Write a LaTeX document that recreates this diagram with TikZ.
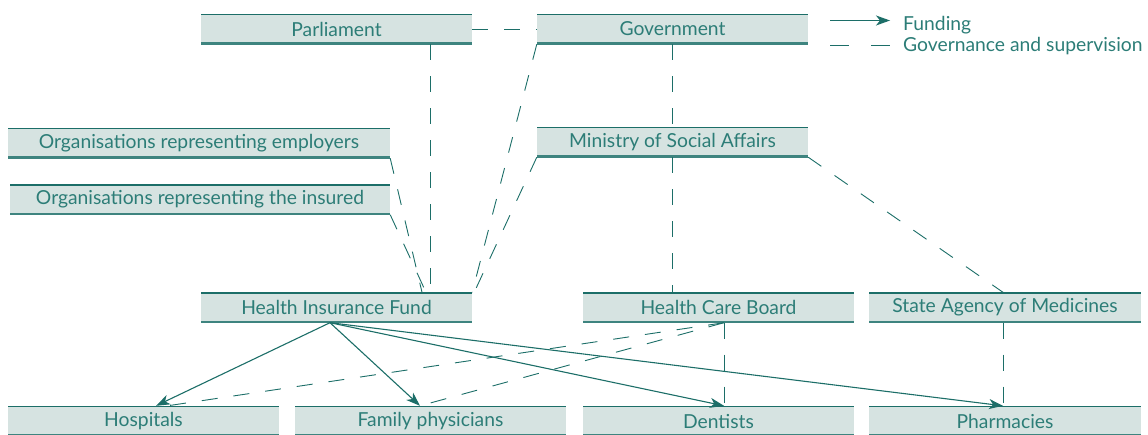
\documentclass[tikz,border=0pt]{standalone}
\usepackage{fontspec}
\setmainfont{Lato}
\usetikzlibrary{arrows.meta}
\definecolor{teal1}{RGB}{28,110,104}
\definecolor{tealtxt}{RGB}{44,125,119}
\definecolor{boxfill}{RGB}{214,227,225}
\tikzset{
  box/.style={fill=boxfill, inner sep=0pt, minimum height=30pt, text=tealtxt,
    font=\fontsize{19.3}{21}\selectfont,
    path picture={\draw[teal1, line width=2.2pt]
      (path picture bounding box.north west) -- (path picture bounding box.north east);
      \draw[teal1!85, line width=3.2pt]
      (path picture bounding box.south west) -- (path picture bounding box.south east);}},
  gov/.style={draw=teal1, line width=0.9pt, dash pattern=on 16pt off 16pt},
  fund/.style={draw=teal1, line width=1.1pt, -{Stealth[length=14pt,width=10pt,inset=4pt]}},
  legtxt/.style={anchor=base west, inner sep=0pt, text=tealtxt, font=\fontsize{19.3}{21}\selectfont}
}
\begin{document}
\begin{tikzpicture}[x=1pt,y=-1pt]
\useasboundingbox (0,0) rectangle (1148,434);
% boxes
\node[box, minimum width=271pt] (par) at (336.5,29) {Parliament};
\node[box, minimum width=271pt] (gov) at (672.5,29) {Government};
\node[box, minimum width=271pt] (min) at (672.5,142) {Ministry of Social Affairs};
\node[box, minimum width=382pt] (emp) at (199,143) {Organisations representing employers};
\node[box, minimum width=380pt] (ins) at (200,199.5) {Organisations representing the insured};
\node[box, minimum width=271pt] (hif) at (336.5,307.5) {Health Insurance Fund};
\node[box, minimum width=271pt] (hcb) at (718.5,307.5) {Health Care Board};
\node[box, minimum width=272pt] (sam) at (1005,307.5) {State Agency of Medicines};
\node[box, minimum width=271pt] (hos) at (143.5,421) {Hospitals};
\node[box, minimum width=271pt] (fam) at (430.5,421) {Family physicians};
\node[box, minimum width=271pt] (den) at (718.5,421) {Dentists};
\node[box, minimum width=272pt] (pha) at (1005,421) {Pharmacies};
% governance and supervision
\draw[gov] (par.east) -- (gov.west);
\draw[gov] ([xshift=93.5pt]par.south) -- ([xshift=93.5pt]hif.north);
\draw[gov] (gov.south) -- (min.north);
\draw[gov] (min.south) -- ([xshift=-46pt]hcb.north);
\draw[gov] (gov.south west) -- (hif.north east);
\draw[gov] (min.south west) -- ([xshift=2pt]hif.north east);
\draw[gov] (emp.south east) -- ([xshift=85.5pt]hif.north);
\draw[gov] (ins.south east) -- ([xshift=89.5pt]hif.north);
\draw[gov] (min.south east) -- ([xshift=-2pt]sam.north);
\draw[gov] ([xshift=5.5pt]hcb.south) -- ([xshift=5.5pt]den.north);
\draw[gov] ([xshift=-2pt]sam.south) -- ([xshift=-2pt]pha.north);
\draw[gov] ([xshift=5.5pt]hcb.south) -- ([xshift=24pt]hos.north);
\draw[gov] ([xshift=5.5pt]hcb.south) -- ([xshift=-10.5pt]fam.north);
% funding
\draw[fund] ([xshift=-6.5pt]hif.south) -- ([xshift=12.5pt]hos.north);
\draw[fund] ([xshift=-6.5pt]hif.south) -- ([xshift=-10.5pt]fam.north);
\draw[fund] ([xshift=-6.5pt]hif.south) -- ([xshift=5.5pt]den.north);
\draw[fund] ([xshift=-6.5pt]hif.south) -- ([xshift=-2pt]pha.north);
% legend
\coordinate (fa) at (830,20.5);
\coordinate (fb) at (890,20.5);
\coordinate (ga) at (830,45);
\coordinate (gb) at (890,45);
\draw[fund] (fa) -- (fb);
\draw[gov, dash pattern=on 19pt off 22pt] (ga) -- (gb);
\node[legtxt] (lf) at (903,30.5) {Funding};
\node[legtxt] (lg) at (903,51.5) {Governance and supervision};
\end{tikzpicture}
\end{document}
